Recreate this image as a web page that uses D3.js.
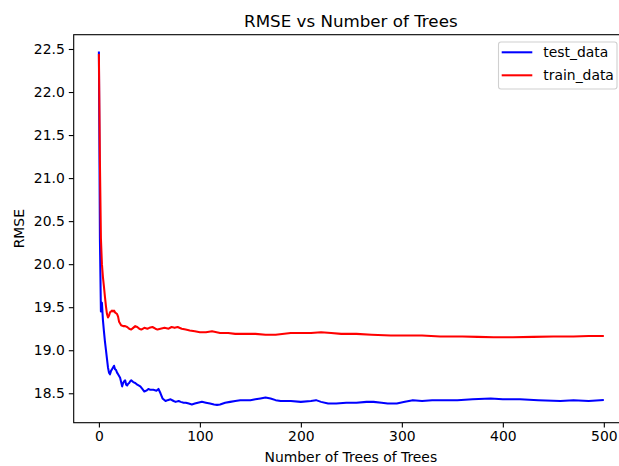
<!DOCTYPE html>
<html>
<head>
<meta charset="utf-8">
<script src="https://cdn.jsdelivr.net/npm/d3@7"></script>
<style>
  html, body { margin: 0; padding: 0; background: #fff; }
  svg { display: block; font-family: "DejaVu Sans", sans-serif; }
</style>
</head>
<body>
<svg id="chart" width="619" height="466"></svg>
<script>
// ---- data ----
const testTrees = [0,1,2,3,4,5,6,7,8,9,10,11,12,13,14,15,16,17,18,19,20,21,22,23,24,25,26,27,28,29,30,31,32,34,36,38,41,43,45,47,49,51,54,57,59,61,63,66,68,71,74,76,79,81,84,86,89,92,95,98,102,106,110,114,117,120,125,130,135,140,145,150,155,160,165,170,175,180,190,200,210,215,220,227,235,245,255,265,272,280,286,295,303,311,320,330,340,355,370,388,400,417,435,457,470,485,499];
const testRmse = [22.46,20.3,19.45,19.55,19.35,19.22,19.1,19.0,18.9,18.8,18.74,18.72,18.76,18.78,18.8,18.82,18.78,18.77,18.74,18.72,18.7,18.68,18.63,18.58,18.62,18.64,18.65,18.6,18.59,18.61,18.62,18.64,18.65,18.63,18.62,18.6,18.58,18.55,18.52,18.53,18.55,18.54,18.54,18.53,18.55,18.5,18.44,18.41,18.42,18.43,18.41,18.40,18.41,18.40,18.39,18.39,18.38,18.37,18.38,18.39,18.40,18.39,18.38,18.37,18.365,18.37,18.39,18.40,18.41,18.42,18.42,18.42,18.43,18.44,18.45,18.44,18.42,18.41,18.41,18.40,18.41,18.42,18.40,18.38,18.38,18.39,18.39,18.40,18.40,18.39,18.38,18.38,18.40,18.42,18.41,18.42,18.42,18.42,18.43,18.44,18.43,18.43,18.42,18.41,18.42,18.41,18.42];

const trainTrees = [0,1,2,3,4,5,6,7,8,9,10,11,12,13,14,15,16,17,18,19,20,21,22,24,26,28,30,32,34,36,38,40,42,45,48,50,53,56,58,61,65,69,72,75,78,82,86,90,95,100,106,112,120,128,135,145,155,165,175,190,200,210,220,230,240,255,270,289,305,320,338,360,375,391,410,430,450,470,485,499];
const trainRmse = [22.43,21.2,20.3,20.0,19.85,19.74,19.62,19.51,19.42,19.38,19.4,19.44,19.45,19.46,19.45,19.46,19.44,19.43,19.42,19.39,19.33,19.31,19.29,19.28,19.28,19.27,19.25,19.24,19.26,19.28,19.27,19.25,19.24,19.26,19.25,19.26,19.27,19.25,19.24,19.25,19.26,19.25,19.27,19.26,19.27,19.25,19.24,19.23,19.22,19.21,19.21,19.22,19.2,19.2,19.19,19.19,19.19,19.18,19.18,19.20,19.2,19.2,19.21,19.2,19.19,19.19,19.18,19.17,19.17,19.17,19.16,19.16,19.155,19.15,19.15,19.155,19.16,19.16,19.165,19.165];

const xTicks = [0,100,200,300,400,500];
const yTicks = [18.5,19.0,19.5,20.0,20.5,21.0,21.5,22.0,22.5];
const seriesNames = ["test_data","train_data"];
const seriesColors = ["blue","red"];
const titleText = "RMSE vs Number of Trees";
const xLabelText = "Number of Trees of Trees";
const yLabelText = "RMSE";

// ---- layout ----
const plot = { left: 73.7, top: 34.7, right: 628, bottom: 422.7 };
const svg = d3.select("#chart");

const x = d3.scaleLinear().domain([-24.95, 523.95]).range([plot.left, plot.right]);
const y = d3.scaleLinear().domain([18.158, 22.666]).range([plot.bottom, plot.top]);

// lines
const line = d3.line().x(d => x(d[0])).y(d => y(d[1]));
const series = [
  d3.zip(testTrees, testRmse),
  d3.zip(trainTrees, trainRmse)
];
series.forEach((s, i) => {
  svg.append("path").datum(s)
    .attr("d", line)
    .attr("fill", "none")
    .attr("stroke", seriesColors[i])
    .attr("stroke-width", 2.05)
    .attr("stroke-linejoin", "round")
    .attr("stroke-linecap", "square");
});

// axes
const fs = 13.9;
const xAxis = d3.axisBottom(x).tickValues(xTicks).tickSize(4.9).tickPadding(4).tickFormat(d3.format("d"));
const yAxis = d3.axisLeft(y).tickValues(yTicks).tickSize(4.9).tickPadding(4).tickFormat(d3.format(".1f"));

const gx = svg.append("g").attr("transform", `translate(0,${plot.bottom})`).call(xAxis);
const gy = svg.append("g").attr("transform", `translate(${plot.left},0)`).call(yAxis);
[gx, gy].forEach(g => {
  g.select(".domain").remove();
  g.selectAll(".tick line").attr("stroke", "#000").attr("stroke-width", 1.1);
  g.selectAll(".tick text").attr("fill", "#000").style("font-size", fs + "px").style("font-family", "DejaVu Sans");
});

// frame (spines)
svg.append("rect")
  .attr("x", plot.left).attr("y", plot.top)
  .attr("width", plot.right - plot.left).attr("height", plot.bottom - plot.top)
  .attr("fill", "none").attr("stroke", "#000").attr("stroke-width", 1.1);

// title & labels
svg.append("text").attr("x", (plot.left + plot.right) / 2).attr("y", 26.5)
  .attr("text-anchor", "middle").style("font-size", "16.7px").text(titleText);
svg.append("text").attr("x", (plot.left + plot.right) / 2).attr("y", 462)
  .attr("text-anchor", "middle").style("font-size", fs + "px").text(xLabelText);
svg.append("text").attr("transform", `translate(23.5,${(plot.top + plot.bottom) / 2}) rotate(-90)`)
  .attr("text-anchor", "middle").style("font-size", fs + "px").text(yLabelText);

// legend
const lg = svg.append("g");
lg.append("rect").attr("x", 498.5).attr("y", 42).attr("width", 118.5).attr("height", 47)
  .attr("rx", 2.5).attr("fill", "#fff").attr("fill-opacity", 0.8)
  .attr("stroke", "#d0d0d0").attr("stroke-width", 1.1);
seriesNames.forEach((name, i) => {
  const yy = 52.3 + i * 23;
  lg.append("line").attr("x1", 501.7).attr("x2", 532.3).attr("y1", yy).attr("y2", yy)
    .attr("stroke", seriesColors[i]).attr("stroke-width", 2.05);
  lg.append("text").attr("x", 543.3).attr("y", yy + 4.8)
    .style("font-size", fs + "px").text(name);
});
</script>
</body>
</html>
